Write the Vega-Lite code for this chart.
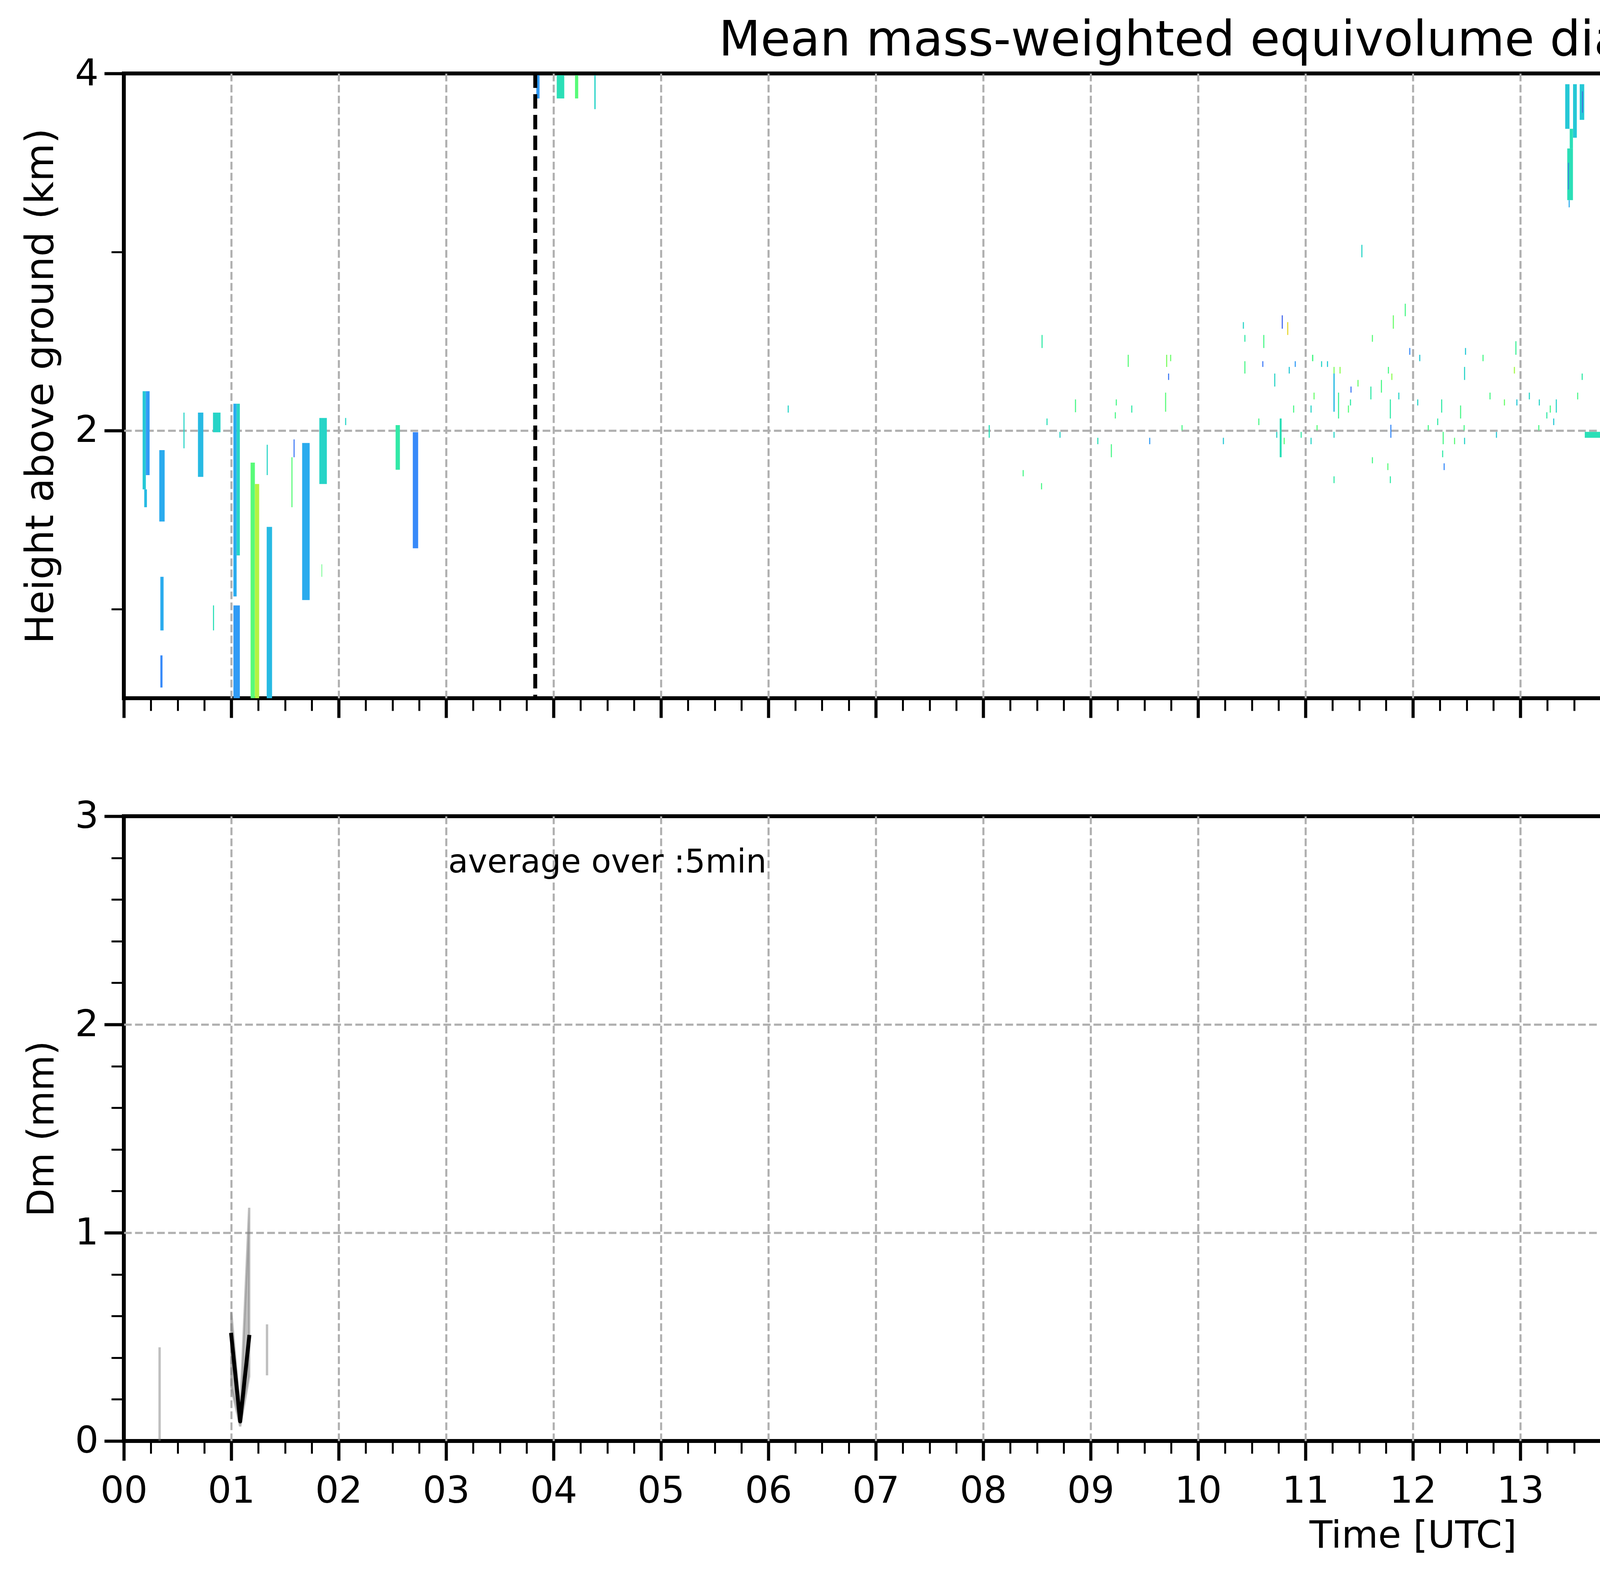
{
  "$schema": "https://vega.github.io/schema/vega-lite/v6.json",
  "background": "white",
  "padding": {"left": 50, "top": 38, "right": 10, "bottom": 10},
  "config": {
    "font": "DejaVu Sans",
    "view": {"stroke": "black", "strokeWidth": 10},
    "axis": {
      "domain": false,
      "tickColor": "black",
      "labelColor": "black",
      "labelFont": "DejaVu Sans",
      "labelFontSize": 95,
      "titleFont": "DejaVu Sans",
      "titleFontSize": 96,
      "titleFontWeight": "normal",
      "titleColor": "black",
      "gridColor": "#b0b0b0",
      "gridDash": [19.7, 8.5],
      "gridWidth": 5.3,
      "zindex": 1,
      "labelFlush": false,
      "labelOverlap": false,
      "labelBound": false,
      "labelPadding": 15,
      "titlePadding": 35
    },
    "title": {"font": "DejaVu Sans", "fontSize": 124, "fontWeight": "normal", "color": "black", "anchor": "middle", "frame": "group", "baseline": "alphabetic", "offset": -27}
  },
  "datasets": {
    "radar": [
      {"t0":20.300,"t1":20.318,"h0":0.50,"h1":0.65,"dm":1.8},
      {"t0":20.318,"t1":20.335,"h0":0.50,"h1":0.65,"dm":1.35},
      {"t0":20.335,"t1":20.400,"h0":0.50,"h1":0.65,"dm":1.05},
      {"t0":20.400,"t1":20.448,"h0":0.50,"h1":0.65,"dm":0.8},
      {"t0":20.448,"t1":20.478,"h0":0.50,"h1":0.65,"dm":1.4},
      {"t0":20.478,"t1":20.530,"h0":0.50,"h1":0.65,"dm":0.65},
      {"t0":20.530,"t1":20.580,"h0":0.50,"h1":0.65,"dm":0.45},
      {"t0":20.580,"t1":20.640,"h0":0.50,"h1":0.65,"dm":0.22},
      {"t0":20.640,"t1":20.675,"h0":0.50,"h1":0.65,"dm":0.4},
      {"t0":20.675,"t1":20.730,"h0":0.50,"h1":0.65,"dm":0.6},
      {"t0":20.730,"t1":20.758,"h0":0.50,"h1":0.65,"dm":0.9},
      {"t0":20.758,"t1":20.785,"h0":0.50,"h1":0.65,"dm":1.75},
      {"t0":20.785,"t1":20.830,"h0":0.50,"h1":0.65,"dm":1.2},
      {"t0":20.830,"t1":20.880,"h0":0.50,"h1":0.65,"dm":0.5},
      {"t0":20.880,"t1":20.920,"h0":0.50,"h1":0.65,"dm":0.35},

      {"t0":20.300,"t1":20.318,"h0":0.65,"h1":0.80,"dm":1.8},
      {"t0":20.318,"t1":20.335,"h0":0.65,"h1":0.80,"dm":1.3},
      {"t0":20.335,"t1":20.398,"h0":0.65,"h1":0.80,"dm":1.05},
      {"t0":20.398,"t1":20.446,"h0":0.65,"h1":0.80,"dm":0.8},
      {"t0":20.446,"t1":20.475,"h0":0.65,"h1":0.80,"dm":1.4},
      {"t0":20.475,"t1":20.525,"h0":0.65,"h1":0.80,"dm":0.6},
      {"t0":20.525,"t1":20.568,"h0":0.65,"h1":0.80,"dm":0.4},
      {"t0":20.568,"t1":20.585,"h0":0.65,"h1":0.80,"dm":0.2},
      {"t0":20.612,"t1":20.640,"h0":0.65,"h1":0.80,"dm":0.3},
      {"t0":20.640,"t1":20.672,"h0":0.65,"h1":0.80,"dm":0.5},
      {"t0":20.672,"t1":20.728,"h0":0.65,"h1":0.80,"dm":0.65},
      {"t0":20.728,"t1":20.756,"h0":0.65,"h1":0.80,"dm":0.95},
      {"t0":20.756,"t1":20.782,"h0":0.65,"h1":0.80,"dm":1.7},
      {"t0":20.782,"t1":20.826,"h0":0.65,"h1":0.80,"dm":1.2},
      {"t0":20.826,"t1":20.870,"h0":0.65,"h1":0.80,"dm":0.5},
      {"t0":20.870,"t1":20.905,"h0":0.65,"h1":0.80,"dm":0.3},

      {"t0":20.300,"t1":20.318,"h0":0.80,"h1":0.95,"dm":1.75},
      {"t0":20.318,"t1":20.333,"h0":0.80,"h1":0.95,"dm":1.4},
      {"t0":20.333,"t1":20.395,"h0":0.80,"h1":0.95,"dm":1.0},
      {"t0":20.395,"t1":20.443,"h0":0.80,"h1":0.95,"dm":0.75},
      {"t0":20.443,"t1":20.472,"h0":0.80,"h1":0.95,"dm":1.35},
      {"t0":20.472,"t1":20.520,"h0":0.80,"h1":0.95,"dm":0.6},
      {"t0":20.520,"t1":20.550,"h0":0.80,"h1":0.95,"dm":0.35},
      {"t0":20.625,"t1":20.660,"h0":0.80,"h1":0.95,"dm":0.35},
      {"t0":20.660,"t1":20.725,"h0":0.80,"h1":0.95,"dm":0.6},
      {"t0":20.725,"t1":20.754,"h0":0.80,"h1":0.95,"dm":0.95},
      {"t0":20.754,"t1":20.779,"h0":0.80,"h1":0.95,"dm":1.65},
      {"t0":20.779,"t1":20.824,"h0":0.80,"h1":0.95,"dm":1.15},
      {"t0":20.824,"t1":20.858,"h0":0.80,"h1":0.95,"dm":0.45},
      {"t0":20.858,"t1":20.875,"h0":0.80,"h1":0.95,"dm":0.25},

      {"t0":20.292,"t1":20.300,"h0":0.95,"h1":1.10,"dm":1.5},
      {"t0":20.300,"t1":20.318,"h0":0.95,"h1":1.10,"dm":1.75},
      {"t0":20.318,"t1":20.332,"h0":0.95,"h1":1.10,"dm":1.3},
      {"t0":20.332,"t1":20.392,"h0":0.95,"h1":1.10,"dm":1.0},
      {"t0":20.392,"t1":20.440,"h0":0.95,"h1":1.10,"dm":0.7},
      {"t0":20.440,"t1":20.468,"h0":0.95,"h1":1.10,"dm":1.4},
      {"t0":20.468,"t1":20.515,"h0":0.95,"h1":1.10,"dm":0.55},
      {"t0":20.515,"t1":20.543,"h0":0.95,"h1":1.10,"dm":0.3},
      {"t0":20.620,"t1":20.650,"h0":0.95,"h1":1.10,"dm":0.35},
      {"t0":20.650,"t1":20.722,"h0":0.95,"h1":1.10,"dm":0.6},
      {"t0":20.722,"t1":20.751,"h0":0.95,"h1":1.10,"dm":0.9},
      {"t0":20.751,"t1":20.776,"h0":0.95,"h1":1.10,"dm":1.6},
      {"t0":20.776,"t1":20.820,"h0":0.95,"h1":1.10,"dm":1.1},
      {"t0":20.820,"t1":20.855,"h0":0.95,"h1":1.10,"dm":0.4},

      {"t0":20.275,"t1":20.298,"h0":1.10,"h1":1.25,"dm":1.45},
      {"t0":20.298,"t1":20.316,"h0":1.10,"h1":1.25,"dm":1.8},
      {"t0":20.316,"t1":20.330,"h0":1.10,"h1":1.25,"dm":1.3},
      {"t0":20.330,"t1":20.390,"h0":1.10,"h1":1.25,"dm":1.0},
      {"t0":20.390,"t1":20.437,"h0":1.10,"h1":1.25,"dm":0.7},
      {"t0":20.437,"t1":20.463,"h0":1.10,"h1":1.25,"dm":1.45},
      {"t0":20.463,"t1":20.510,"h0":1.10,"h1":1.25,"dm":0.5},
      {"t0":20.510,"t1":20.540,"h0":1.10,"h1":1.25,"dm":0.3},
      {"t0":20.615,"t1":20.645,"h0":1.10,"h1":1.25,"dm":0.4},
      {"t0":20.645,"t1":20.718,"h0":1.10,"h1":1.25,"dm":0.6},
      {"t0":20.718,"t1":20.748,"h0":1.10,"h1":1.25,"dm":0.9},
      {"t0":20.748,"t1":20.772,"h0":1.10,"h1":1.25,"dm":1.6},
      {"t0":20.772,"t1":20.815,"h0":1.10,"h1":1.25,"dm":1.1},
      {"t0":20.815,"t1":20.845,"h0":1.10,"h1":1.25,"dm":0.35},

      {"t0":20.250,"t1":20.275,"h0":1.25,"h1":1.40,"dm":1.1},
      {"t0":20.275,"t1":20.296,"h0":1.25,"h1":1.40,"dm":1.6},
      {"t0":20.296,"t1":20.314,"h0":1.25,"h1":1.40,"dm":1.8},
      {"t0":20.314,"t1":20.328,"h0":1.25,"h1":1.40,"dm":1.25},
      {"t0":20.328,"t1":20.386,"h0":1.25,"h1":1.40,"dm":0.95},
      {"t0":20.386,"t1":20.432,"h0":1.25,"h1":1.40,"dm":0.7},
      {"t0":20.432,"t1":20.458,"h0":1.25,"h1":1.40,"dm":1.45},
      {"t0":20.458,"t1":20.505,"h0":1.25,"h1":1.40,"dm":0.5},
      {"t0":20.505,"t1":20.535,"h0":1.25,"h1":1.40,"dm":0.3},
      {"t0":20.605,"t1":20.640,"h0":1.25,"h1":1.40,"dm":0.45},
      {"t0":20.640,"t1":20.714,"h0":1.25,"h1":1.40,"dm":0.6},
      {"t0":20.714,"t1":20.745,"h0":1.25,"h1":1.40,"dm":0.9},
      {"t0":20.745,"t1":20.769,"h0":1.25,"h1":1.40,"dm":1.6},
      {"t0":20.769,"t1":20.810,"h0":1.25,"h1":1.40,"dm":1.05},
      {"t0":20.810,"t1":20.840,"h0":1.25,"h1":1.40,"dm":0.35},

      {"t0":20.258,"t1":20.290,"h0":1.40,"h1":1.55,"dm":1.3},
      {"t0":20.296,"t1":20.312,"h0":1.40,"h1":1.55,"dm":1.75},
      {"t0":20.312,"t1":20.326,"h0":1.40,"h1":1.55,"dm":1.2},
      {"t0":20.326,"t1":20.382,"h0":1.40,"h1":1.55,"dm":0.9},
      {"t0":20.382,"t1":20.428,"h0":1.40,"h1":1.55,"dm":0.65},
      {"t0":20.428,"t1":20.452,"h0":1.40,"h1":1.55,"dm":1.4},
      {"t0":20.452,"t1":20.500,"h0":1.40,"h1":1.55,"dm":0.5},
      {"t0":20.500,"t1":20.532,"h0":1.40,"h1":1.55,"dm":0.35},
      {"t0":20.595,"t1":20.635,"h0":1.40,"h1":1.55,"dm":0.5},
      {"t0":20.635,"t1":20.710,"h0":1.40,"h1":1.55,"dm":0.65},
      {"t0":20.710,"t1":20.742,"h0":1.40,"h1":1.55,"dm":0.9},
      {"t0":20.742,"t1":20.766,"h0":1.40,"h1":1.55,"dm":1.55},
      {"t0":20.766,"t1":20.808,"h0":1.40,"h1":1.55,"dm":1.0},
      {"t0":20.808,"t1":20.838,"h0":1.40,"h1":1.55,"dm":0.4},

      {"t0":20.296,"t1":20.310,"h0":1.55,"h1":1.70,"dm":1.7},
      {"t0":20.310,"t1":20.324,"h0":1.55,"h1":1.70,"dm":1.2},
      {"t0":20.324,"t1":20.378,"h0":1.55,"h1":1.70,"dm":0.9},
      {"t0":20.378,"t1":20.424,"h0":1.55,"h1":1.70,"dm":0.65},
      {"t0":20.424,"t1":20.447,"h0":1.55,"h1":1.70,"dm":1.35},
      {"t0":20.447,"t1":20.495,"h0":1.55,"h1":1.70,"dm":0.5},
      {"t0":20.495,"t1":20.528,"h0":1.55,"h1":1.70,"dm":0.4},
      {"t0":20.575,"t1":20.630,"h0":1.55,"h1":1.70,"dm":0.6},
      {"t0":20.630,"t1":20.705,"h0":1.55,"h1":1.70,"dm":0.7},
      {"t0":20.705,"t1":20.740,"h0":1.55,"h1":1.70,"dm":0.95},
      {"t0":20.740,"t1":20.764,"h0":1.55,"h1":1.70,"dm":1.5},
      {"t0":20.764,"t1":20.800,"h0":1.55,"h1":1.70,"dm":0.9},
      {"t0":20.800,"t1":20.835,"h0":1.55,"h1":1.70,"dm":0.45},

      {"t0":20.238,"t1":20.262,"h0":1.70,"h1":1.85,"dm":1.3},
      {"t0":20.262,"t1":20.290,"h0":1.70,"h1":1.85,"dm":1.7},
      {"t0":20.290,"t1":20.305,"h0":1.70,"h1":1.85,"dm":1.5},
      {"t0":20.305,"t1":20.345,"h0":1.70,"h1":1.85,"dm":1.0},
      {"t0":20.345,"t1":20.410,"h0":1.70,"h1":1.85,"dm":0.75},
      {"t0":20.410,"t1":20.440,"h0":1.70,"h1":1.85,"dm":1.2},
      {"t0":20.440,"t1":20.490,"h0":1.70,"h1":1.85,"dm":0.55},
      {"t0":20.490,"t1":20.530,"h0":1.70,"h1":1.85,"dm":0.45},
      {"t0":20.545,"t1":20.560,"h0":1.70,"h1":1.85,"dm":0.55},
      {"t0":20.560,"t1":20.640,"h0":1.70,"h1":1.85,"dm":0.65},
      {"t0":20.640,"t1":20.700,"h0":1.70,"h1":1.85,"dm":0.8},
      {"t0":20.700,"t1":20.745,"h0":1.70,"h1":1.85,"dm":1.0},
      {"t0":20.745,"t1":20.762,"h0":1.70,"h1":1.85,"dm":1.4},
      {"t0":20.762,"t1":20.800,"h0":1.70,"h1":1.85,"dm":0.5},
      {"t0":20.800,"t1":20.835,"h0":1.70,"h1":1.85,"dm":0.4},

      {"t0":20.262,"t1":20.300,"h0":1.85,"h1":1.95,"dm":1.6},
      {"t0":20.330,"t1":20.490,"h0":1.85,"h1":2.00,"dm":0.8},
      {"t0":20.495,"t1":20.625,"h0":1.85,"h1":2.00,"dm":0.65},
      {"t0":20.640,"t1":20.735,"h0":1.85,"h1":2.00,"dm":0.85},
      {"t0":20.735,"t1":20.760,"h0":1.85,"h1":1.98,"dm":1.2},
      {"t0":20.760,"t1":20.800,"h0":1.85,"h1":1.93,"dm":0.45},

      {"t0":20.372,"t1":20.400,"h0":2.00,"h1":2.14,"dm":0.8},
      {"t0":20.440,"t1":20.475,"h0":2.00,"h1":2.03,"dm":0.8},
      {"t0":20.555,"t1":20.585,"h0":2.00,"h1":2.10,"dm":0.7},
      {"t0":20.585,"t1":20.610,"h0":2.00,"h1":2.32,"dm":0.75},
      {"t0":20.598,"t1":20.607,"h0":2.32,"h1":2.38,"dm":0.2},
      {"t0":20.610,"t1":20.675,"h0":2.00,"h1":2.09,"dm":0.5},
      {"t0":20.742,"t1":20.800,"h0":2.00,"h1":2.21,"dm":0.9},

      {"t0":20.120,"t1":20.128,"h0":2.08,"h1":2.12,"dm":0.6},
      {"t0":20.158,"t1":20.166,"h0":2.04,"h1":2.12,"dm":0.8},
      {"t0":20.198,"t1":20.204,"h0":2.04,"h1":2.10,"dm":0.2},
      {"t0":20.212,"t1":20.218,"h0":1.96,"h1":2.00,"dm":0.5},
      {"t0":20.222,"t1":20.228,"h0":1.78,"h1":1.82,"dm":0.5},
      {"t0":20.805,"t1":20.812,"h0":1.62,"h1":1.72,"dm":0.4},
      {"t0":20.842,"t1":20.849,"h0":1.75,"h1":1.85,"dm":0.7},
      {"t0":20.820,"t1":20.826,"h0":1.96,"h1":2.04,"dm":0.2},
      {"t0":20.862,"t1":20.868,"h0":2.00,"h1":2.08,"dm":0.8},
      {"t0":20.880,"t1":20.886,"h0":1.85,"h1":1.90,"dm":0.6},
      {"t0":20.920,"t1":20.926,"h0":1.96,"h1":2.06,"dm":0.5},
      {"t0":20.945,"t1":20.952,"h0":2.00,"h1":2.06,"dm":0.8},
      {"t0":20.996,"t1":21.003,"h0":1.88,"h1":2.08,"dm":0.8},
      {"t0":21.050,"t1":21.085,"h0":1.92,"h1":2.10,"dm":0.9},
      {"t0":21.060,"t1":21.067,"h0":1.80,"h1":1.92,"dm":0.6},
      {"t0":21.100,"t1":21.112,"h0":1.66,"h1":1.69,"dm":0.3},

      {"t0":20.772,"t1":20.786,"h0":3.36,"h1":3.51,"dm":0.8},
      {"t0":20.855,"t1":20.862,"h0":3.83,"h1":3.97,"dm":0.7},
      {"t0":20.975,"t1":20.985,"h0":3.80,"h1":3.98,"dm":0.9},
      {"t0":20.985,"t1":21.000,"h0":3.73,"h1":4.00,"dm":0.5},
      {"t0":21.000,"t1":21.030,"h0":3.85,"h1":4.00,"dm":0.45},
      {"t0":21.005,"t1":21.012,"h0":3.70,"h1":3.78,"dm":0.15},
      {"t0":21.160,"t1":21.170,"h0":3.44,"h1":3.94,"dm":0.7},
      {"t0":21.222,"t1":21.228,"h0":3.76,"h1":3.83,"dm":0.85},
      {"t0":21.270,"t1":21.283,"h0":3.62,"h1":3.90,"dm":0.55},
      {"t0":21.283,"t1":21.295,"h0":3.55,"h1":3.92,"dm":0.75},
      {"t0":21.455,"t1":21.460,"h0":3.92,"h1":3.97,"dm":0.15},
      {"t0":21.455,"t1":21.461,"h0":3.55,"h1":3.63,"dm":0.85},
      {"t0":21.455,"t1":21.459,"h0":3.27,"h1":3.31,"dm":0.25},
      {"t0":21.540,"t1":21.550,"h0":3.49,"h1":3.56,"dm":0.5},
      {"t0":21.545,"t1":21.550,"h0":3.62,"h1":3.70,"dm":0.4},
      {"t0":21.540,"t1":21.545,"h0":3.92,"h1":3.96,"dm":0.8},
      {"t0":21.920,"t1":21.928,"h0":2.68,"h1":2.75,"dm":0.65},

      {"t0":0.175,"t1":0.205,"h0":1.67,"h1":2.22,"dm":0.55},
      {"t0":0.205,"t1":0.240,"h0":1.75,"h1":2.22,"dm":0.4},
      {"t0":0.190,"t1":0.215,"h0":1.57,"h1":1.67,"dm":0.5},
      {"t0":0.330,"t1":0.380,"h0":1.49,"h1":1.89,"dm":0.45},
      {"t0":0.340,"t1":0.370,"h0":0.88,"h1":1.18,"dm":0.45},
      {"t0":0.340,"t1":0.360,"h0":0.56,"h1":0.74,"dm":0.35},
      {"t0":0.555,"t1":0.565,"h0":1.90,"h1":2.10,"dm":0.6},
      {"t0":0.690,"t1":0.740,"h0":1.74,"h1":2.10,"dm":0.5},
      {"t0":0.830,"t1":0.900,"h0":1.99,"h1":2.10,"dm":0.6},
      {"t0":0.830,"t1":0.840,"h0":0.88,"h1":1.02,"dm":0.65},
      {"t0":1.020,"t1":1.050,"h0":1.07,"h1":2.15,"dm":0.45},
      {"t0":1.050,"t1":1.080,"h0":1.30,"h1":2.15,"dm":0.6},
      {"t0":1.020,"t1":1.080,"h0":0.50,"h1":1.02,"dm":0.4},
      {"t0":1.180,"t1":1.220,"h0":0.50,"h1":1.82,"dm":0.85},
      {"t0":1.220,"t1":1.260,"h0":0.50,"h1":1.70,"dm":1.1},
      {"t0":1.330,"t1":1.380,"h0":0.50,"h1":1.46,"dm":0.5},
      {"t0":1.330,"t1":1.340,"h0":1.75,"h1":1.92,"dm":0.6},
      {"t0":1.560,"t1":1.570,"h0":1.57,"h1":1.85,"dm":0.85},
      {"t0":1.580,"t1":1.590,"h0":1.85,"h1":1.95,"dm":0.3},
      {"t0":1.660,"t1":1.730,"h0":1.05,"h1":1.93,"dm":0.45},
      {"t0":1.820,"t1":1.890,"h0":1.70,"h1":2.07,"dm":0.6},
      {"t0":1.840,"t1":1.846,"h0":1.18,"h1":1.25,"dm":0.85},
      {"t0":2.060,"t1":2.070,"h0":2.03,"h1":2.07,"dm":0.6},
      {"t0":2.530,"t1":2.570,"h0":1.78,"h1":2.03,"dm":0.7},
      {"t0":2.690,"t1":2.740,"h0":1.34,"h1":1.99,"dm":0.35},

      {"t0":3.840,"t1":3.870,"h0":3.86,"h1":3.99,"dm":0.4},
      {"t0":4.030,"t1":4.100,"h0":3.86,"h1":3.99,"dm":0.65},
      {"t0":4.200,"t1":4.230,"h0":3.86,"h1":3.99,"dm":0.85},
      {"t0":4.380,"t1":4.392,"h0":3.80,"h1":3.99,"dm":0.6},
      {"t0":6.180,"t1":6.190,"h0":2.10,"h1":2.14,"dm":0.6},

      {"t0":13.418,"t1":13.458,"h0":3.69,"h1":3.94,"dm":0.55},
      {"t0":13.491,"t1":13.526,"h0":3.64,"h1":3.94,"dm":0.55},
      {"t0":13.553,"t1":13.595,"h0":3.74,"h1":3.94,"dm":0.55},
      {"t0":13.575,"t1":13.582,"h0":3.78,"h1":3.90,"dm":0.2},
      {"t0":13.460,"t1":13.490,"h0":3.58,"h1":3.69,"dm":0.65},
      {"t0":13.437,"t1":13.490,"h0":3.29,"h1":3.58,"dm":0.65},
      {"t0":13.445,"t1":13.452,"h0":3.35,"h1":3.50,"dm":0.25},
      {"t0":13.450,"t1":13.460,"h0":3.25,"h1":3.29,"dm":0.45},

      {"t0":11.520,"t1":11.530,"h0":2.97,"h1":3.04,"dm":0.6},
      {"t0":11.924,"t1":11.934,"h0":2.64,"h1":2.71,"dm":0.8},
      {"t0":11.813,"t1":11.823,"h0":2.57,"h1":2.645,"dm":0.9},
      {"t0":10.779,"t1":10.789,"h0":2.57,"h1":2.645,"dm":0.25},
      {"t0":10.830,"t1":10.840,"h0":2.535,"h1":2.607,"dm":1.25},
      {"t0":10.417,"t1":10.427,"h0":2.57,"h1":2.607,"dm":0.6},
      {"t0":10.431,"t1":10.441,"h0":2.497,"h1":2.535,"dm":0.7},
      {"t0":10.607,"t1":10.617,"h0":2.462,"h1":2.535,"dm":0.8},
      {"t0":8.543,"t1":8.553,"h0":2.462,"h1":2.535,"dm":0.7},
      {"t0":11.618,"t1":11.628,"h0":2.497,"h1":2.535,"dm":0.85},
      {"t0":11.966,"t1":11.976,"h0":2.424,"h1":2.462,"dm":0.35},
      {"t0":12.485,"t1":12.495,"h0":2.424,"h1":2.462,"dm":0.55},
      {"t0":12.954,"t1":12.964,"h0":2.424,"h1":2.50,"dm":0.75},
      {"t0":14.772,"t1":14.782,"h0":2.424,"h1":2.462,"dm":0.65},
      {"t0":9.345,"t1":9.355,"h0":2.356,"h1":2.424,"dm":0.85},
      {"t0":9.703,"t1":9.713,"h0":2.356,"h1":2.424,"dm":0.95},
      {"t0":9.740,"t1":9.750,"h0":2.388,"h1":2.424,"dm":0.9},
      {"t0":10.598,"t1":10.608,"h0":2.356,"h1":2.388,"dm":0.3},
      {"t0":11.061,"t1":11.073,"h0":2.388,"h1":2.424,"dm":0.8},
      {"t0":11.145,"t1":11.155,"h0":2.356,"h1":2.388,"dm":0.6},
      {"t0":11.200,"t1":11.210,"h0":2.356,"h1":2.388,"dm":0.55},
      {"t0":10.844,"t1":10.854,"h0":2.319,"h1":2.356,"dm":0.55},
      {"t0":10.900,"t1":10.910,"h0":2.356,"h1":2.388,"dm":0.4},
      {"t0":11.261,"t1":11.271,"h0":2.319,"h1":2.356,"dm":0.95},
      {"t0":11.317,"t1":11.327,"h0":2.319,"h1":2.356,"dm":1.0},
      {"t0":11.767,"t1":11.777,"h0":2.319,"h1":2.356,"dm":0.8},
      {"t0":12.476,"t1":12.486,"h0":2.283,"h1":2.356,"dm":0.6},
      {"t0":12.940,"t1":12.950,"h0":2.319,"h1":2.356,"dm":1.05},
      {"t0":12.648,"t1":12.658,"h0":2.388,"h1":2.424,"dm":0.8},
      {"t0":12.059,"t1":12.069,"h0":2.388,"h1":2.424,"dm":0.55},
      {"t0":9.721,"t1":9.731,"h0":2.283,"h1":2.319,"dm":0.3},
      {"t0":10.431,"t1":10.441,"h0":2.319,"h1":2.388,"dm":0.8},
      {"t0":10.709,"t1":10.719,"h0":2.246,"h1":2.319,"dm":0.6},
      {"t0":11.260,"t1":11.272,"h0":2.105,"h1":2.319,"dm":0.5},
      {"t0":11.303,"t1":11.313,"h0":2.067,"h1":2.212,"dm":0.75},
      {"t0":11.484,"t1":11.494,"h0":2.246,"h1":2.283,"dm":0.9},
      {"t0":11.419,"t1":11.429,"h0":2.212,"h1":2.246,"dm":0.3},
      {"t0":11.604,"t1":11.614,"h0":2.174,"h1":2.246,"dm":0.7},
      {"t0":11.702,"t1":11.712,"h0":2.212,"h1":2.283,"dm":0.8},
      {"t0":11.799,"t1":11.809,"h0":2.283,"h1":2.319,"dm":1.0},
      {"t0":11.864,"t1":11.874,"h0":2.174,"h1":2.212,"dm":0.6},
      {"t0":11.785,"t1":11.795,"h0":2.067,"h1":2.174,"dm":0.7},
      {"t0":11.790,"t1":11.800,"h0":1.959,"h1":2.032,"dm":0.35},
      {"t0":9.693,"t1":9.703,"h0":2.105,"h1":2.212,"dm":0.85},
      {"t0":9.378,"t1":9.388,"h0":2.10,"h1":2.14,"dm":0.7},
      {"t0":9.234,"t1":9.244,"h0":2.14,"h1":2.174,"dm":0.8},
      {"t0":9.225,"t1":9.235,"h0":2.067,"h1":2.102,"dm":0.8},
      {"t0":8.854,"t1":8.864,"h0":2.102,"h1":2.174,"dm":0.8},
      {"t0":8.589,"t1":8.599,"h0":2.03,"h1":2.067,"dm":0.65},
      {"t0":8.051,"t1":8.061,"h0":1.959,"h1":2.03,"dm":0.65},
      {"t0":8.710,"t1":8.720,"h0":1.959,"h1":1.992,"dm":0.6},
      {"t0":9.062,"t1":9.072,"h0":1.923,"h1":1.959,"dm":0.65},
      {"t0":9.188,"t1":9.198,"h0":1.85,"h1":1.923,"dm":0.8},
      {"t0":9.545,"t1":9.555,"h0":1.923,"h1":1.959,"dm":0.4},
      {"t0":9.846,"t1":9.856,"h0":2.0,"h1":2.03,"dm":0.8},
      {"t0":10.231,"t1":10.241,"h0":1.923,"h1":1.959,"dm":0.55},
      {"t0":10.561,"t1":10.571,"h0":2.03,"h1":2.067,"dm":0.8},
      {"t0":10.760,"t1":10.778,"h0":1.85,"h1":2.067,"dm":0.65},
      {"t0":10.797,"t1":10.807,"h0":1.923,"h1":1.959,"dm":0.85},
      {"t0":10.728,"t1":10.738,"h0":1.959,"h1":1.992,"dm":0.6},
      {"t0":10.955,"t1":10.965,"h0":1.959,"h1":1.992,"dm":0.7},
      {"t0":10.885,"t1":10.895,"h0":2.10,"h1":2.14,"dm":0.8},
      {"t0":11.047,"t1":11.057,"h0":2.10,"h1":2.14,"dm":0.6},
      {"t0":11.047,"t1":11.057,"h0":1.923,"h1":1.959,"dm":0.6},
      {"t0":11.103,"t1":11.113,"h0":2.0,"h1":2.03,"dm":0.85},
      {"t0":11.075,"t1":11.085,"h0":2.174,"h1":2.212,"dm":0.9},
      {"t0":11.261,"t1":11.271,"h0":1.959,"h1":1.992,"dm":0.6},
      {"t0":11.395,"t1":11.405,"h0":2.10,"h1":2.14,"dm":0.85},
      {"t0":11.414,"t1":11.424,"h0":2.14,"h1":2.174,"dm":0.7},
      {"t0":11.618,"t1":11.628,"h0":1.816,"h1":1.85,"dm":0.8},
      {"t0":11.762,"t1":11.772,"h0":1.778,"h1":1.816,"dm":0.85},
      {"t0":11.261,"t1":11.271,"h0":1.705,"h1":1.743,"dm":0.7},
      {"t0":11.785,"t1":11.795,"h0":1.705,"h1":1.743,"dm":0.7},
      {"t0":8.367,"t1":8.377,"h0":1.743,"h1":1.778,"dm":0.8},
      {"t0":8.538,"t1":8.548,"h0":1.67,"h1":1.705,"dm":0.8},
      {"t0":12.040,"t1":12.050,"h0":2.14,"h1":2.174,"dm":0.6},
      {"t0":12.263,"t1":12.273,"h0":2.10,"h1":2.174,"dm":0.7},
      {"t0":12.226,"t1":12.236,"h0":2.03,"h1":2.067,"dm":0.7},
      {"t0":12.138,"t1":12.148,"h0":2.0,"h1":2.03,"dm":0.8},
      {"t0":12.277,"t1":12.287,"h0":1.923,"h1":1.992,"dm":0.8},
      {"t0":12.272,"t1":12.282,"h0":1.85,"h1":1.888,"dm":0.7},
      {"t0":12.286,"t1":12.296,"h0":1.778,"h1":1.816,"dm":0.35},
      {"t0":12.383,"t1":12.393,"h0":1.923,"h1":1.959,"dm":0.85},
      {"t0":12.476,"t1":12.486,"h0":1.923,"h1":1.959,"dm":0.6},
      {"t0":12.439,"t1":12.449,"h0":2.067,"h1":2.14,"dm":0.8},
      {"t0":12.472,"t1":12.482,"h0":2.0,"h1":2.03,"dm":0.8},
      {"t0":12.713,"t1":12.723,"h0":2.174,"h1":2.212,"dm":0.8},
      {"t0":12.847,"t1":12.857,"h0":2.14,"h1":2.174,"dm":0.9},
      {"t0":12.963,"t1":12.973,"h0":2.14,"h1":2.174,"dm":0.55},
      {"t0":12.773,"t1":12.783,"h0":1.959,"h1":1.992,"dm":0.55},
      {"t0":13.079,"t1":13.089,"h0":2.174,"h1":2.212,"dm":0.6},
      {"t0":13.167,"t1":13.177,"h0":2.0,"h1":2.03,"dm":0.8},
      {"t0":13.172,"t1":13.182,"h0":2.14,"h1":2.174,"dm":0.6},
      {"t0":13.242,"t1":13.252,"h0":2.067,"h1":2.102,"dm":0.7},
      {"t0":13.274,"t1":13.284,"h0":2.10,"h1":2.14,"dm":0.8},
      {"t0":13.306,"t1":13.316,"h0":2.03,"h1":2.067,"dm":0.55},
      {"t0":13.330,"t1":13.340,"h0":2.10,"h1":2.174,"dm":0.6},
      {"t0":13.529,"t1":13.539,"h0":2.174,"h1":2.212,"dm":0.8},
      {"t0":13.571,"t1":13.581,"h0":2.283,"h1":2.319,"dm":0.7},
      {"t0":13.600,"t1":13.784,"h0":1.959,"h1":1.992,"dm":0.65},
      {"t0":14.109,"t1":14.119,"h0":2.067,"h1":2.102,"dm":0.7},
      {"t0":14.485,"t1":14.495,"h0":2.14,"h1":2.174,"dm":0.9},
      {"t0":14.638,"t1":14.648,"h0":2.10,"h1":2.174,"dm":0.6},
      {"t0":14.490,"t1":14.500,"h0":1.77,"h1":1.85,"dm":0.15},
      {"t0":14.500,"t1":14.520,"h0":1.70,"h1":1.89,"dm":0.5},
      {"t0":14.515,"t1":14.525,"h0":1.60,"h1":1.75,"dm":0.4},

      {"t0":15.070,"t1":15.080,"h0":3.36,"h1":3.40,"dm":0.4},
      {"t0":15.260,"t1":15.268,"h0":2.64,"h1":2.68,"dm":0.15},
      {"t0":15.780,"t1":15.788,"h0":1.97,"h1":2.00,"dm":0.6},
      {"t0":16.040,"t1":16.048,"h0":1.97,"h1":2.00,"dm":0.65},
      {"t0":16.090,"t1":16.098,"h0":2.03,"h1":2.07,"dm":0.7},
      {"t0":16.650,"t1":16.658,"h0":1.93,"h1":1.96,"dm":0.5},
      {"t0":17.170,"t1":17.178,"h0":1.90,"h1":1.93,"dm":0.75},
      {"t0":17.490,"t1":17.498,"h0":1.82,"h1":1.86,"dm":0.65},
      {"t0":17.630,"t1":17.638,"h0":2.10,"h1":2.14,"dm":0.6},
      {"t0":18.210,"t1":18.218,"h0":1.97,"h1":2.00,"dm":0.65},
      {"t0":18.370,"t1":18.378,"h0":1.86,"h1":1.89,"dm":0.7},
      {"t0":19.550,"t1":19.558,"h0":1.82,"h1":1.86,"dm":0.7},
      {"t0":19.850,"t1":19.858,"h0":1.90,"h1":1.93,"dm":0.6}
    ],
    "events": [
      {"t0": 3.83},
      {"t0": 18.52}
    ],
    "cbar": [
      {"c0":0.00,"c1":0.04,"cm":0.02},{"c0":0.04,"c1":0.08,"cm":0.06},{"c0":0.08,"c1":0.12,"cm":0.10},{"c0":0.12,"c1":0.16,"cm":0.14},{"c0":0.16,"c1":0.20,"cm":0.18},
      {"c0":0.20,"c1":0.24,"cm":0.22},{"c0":0.24,"c1":0.28,"cm":0.26},{"c0":0.28,"c1":0.32,"cm":0.30},{"c0":0.32,"c1":0.36,"cm":0.34},{"c0":0.36,"c1":0.40,"cm":0.38},
      {"c0":0.40,"c1":0.44,"cm":0.42},{"c0":0.44,"c1":0.48,"cm":0.46},{"c0":0.48,"c1":0.52,"cm":0.50},{"c0":0.52,"c1":0.56,"cm":0.54},{"c0":0.56,"c1":0.60,"cm":0.58},
      {"c0":0.60,"c1":0.64,"cm":0.62},{"c0":0.64,"c1":0.68,"cm":0.66},{"c0":0.68,"c1":0.72,"cm":0.70},{"c0":0.72,"c1":0.76,"cm":0.74},{"c0":0.76,"c1":0.80,"cm":0.78},
      {"c0":0.80,"c1":0.84,"cm":0.82},{"c0":0.84,"c1":0.88,"cm":0.86},{"c0":0.88,"c1":0.92,"cm":0.90},{"c0":0.92,"c1":0.96,"cm":0.94},{"c0":0.96,"c1":1.00,"cm":0.98},
      {"c0":1.00,"c1":1.04,"cm":1.02},{"c0":1.04,"c1":1.08,"cm":1.06},{"c0":1.08,"c1":1.12,"cm":1.10},{"c0":1.12,"c1":1.16,"cm":1.14},{"c0":1.16,"c1":1.20,"cm":1.18},
      {"c0":1.20,"c1":1.24,"cm":1.22},{"c0":1.24,"c1":1.28,"cm":1.26},{"c0":1.28,"c1":1.32,"cm":1.30},{"c0":1.32,"c1":1.36,"cm":1.34},{"c0":1.36,"c1":1.40,"cm":1.38},
      {"c0":1.40,"c1":1.44,"cm":1.42},{"c0":1.44,"c1":1.48,"cm":1.46},{"c0":1.48,"c1":1.52,"cm":1.50},{"c0":1.52,"c1":1.56,"cm":1.54},{"c0":1.56,"c1":1.60,"cm":1.58},
      {"c0":1.60,"c1":1.64,"cm":1.62},{"c0":1.64,"c1":1.68,"cm":1.66},{"c0":1.68,"c1":1.72,"cm":1.70},{"c0":1.72,"c1":1.76,"cm":1.74},{"c0":1.76,"c1":1.80,"cm":1.78},
      {"c0":1.80,"c1":1.84,"cm":1.82},{"c0":1.84,"c1":1.88,"cm":1.86},{"c0":1.88,"c1":1.92,"cm":1.90},{"c0":1.92,"c1":1.96,"cm":1.94},{"c0":1.96,"c1":2.00,"cm":1.98}
    ],
    "radar5": [
      {"seg":1,"t":0.333,"vmin":0.0,"vmax":0.45,"vmed":null},
      {"seg":2,"t":1.0,"vmin":0.26,"vmax":0.62,"vmed":0.51},
      {"seg":2,"t":1.083,"vmin":0.07,"vmax":0.13,"vmed":0.094},
      {"seg":2,"t":1.167,"vmin":0.31,"vmax":1.12,"vmed":0.5},
      {"seg":3,"t":1.333,"vmin":0.315,"vmax":0.56,"vmed":null},
      {"seg":4,"t":20.25,"vmin":0.107,"vmax":1.837,"vmed":0.797},
      {"seg":4,"t":20.333,"vmin":0.04,"vmax":1.409,"vmed":0.99},
      {"seg":4,"t":20.417,"vmin":0.053,"vmax":1.65,"vmed":0.91},
      {"seg":4,"t":20.5,"vmin":0.01,"vmax":1.131,"vmed":0.696},
      {"seg":4,"t":20.583,"vmin":0.086,"vmax":0.846,"vmed":0.334},
      {"seg":4,"t":20.667,"vmin":0.1,"vmax":1.34,"vmed":0.361},
      {"seg":4,"t":20.75,"vmin":0.203,"vmax":1.926,"vmed":0.951},
      {"seg":4,"t":20.833,"vmin":0.02,"vmax":0.877,"vmed":0.448},
      {"seg":4,"t":20.917,"vmin":0.34,"vmax":0.36,"vmed":0.355}
    ],
    "note": [
      {"t": 3.02, "v": 2.73, "txt": "average over :5min"}
    ]
  },
  "vconcat": [
    {
      "spacing": 64,
      "hconcat": [
        {
          "width": 6600,
          "height": 1599,
          "title": {"text": "Mean mass-weighted equivolume diameter on 20260504"},
          "encoding": {
            "x": {
              "field": "t0",
              "type": "quantitative",
              "scale": {"domain": [0, 24], "nice": false, "zero": false},
              "axis": {
                "title": null,
                "labels": false,
                "values": [0,0.25,0.5,0.75,1,1.25,1.5,1.75,2,2.25,2.5,2.75,3,3.25,3.5,3.75,4,4.25,4.5,4.75,5,5.25,5.5,5.75,6,6.25,6.5,6.75,7,7.25,7.5,7.75,8,8.25,8.5,8.75,9,9.25,9.5,9.75,10,10.25,10.5,10.75,11,11.25,11.5,11.75,12,12.25,12.5,12.75,13,13.25,13.5,13.75,14,14.25,14.5,14.75,15,15.25,15.5,15.75,16,16.25,16.5,16.75,17,17.25,17.5,17.75,18,18.25,18.5,18.75,19,19.25,19.5,19.75,20,20.25,20.5,20.75,21,21.25,21.5,21.75,22,22.25,22.5,22.75,23,23.25,23.5,23.75,24],
                "tickSize": 50,
                "tickDash": {"condition": {"test": "datum.value % 1 === 0 && datum.value < 24", "value": []}, "value": [32, 200]},
                "tickWidth": {"condition": {"test": "datum.value % 1 === 0 && datum.value < 24", "value": 8}, "value": 5},
                "gridOpacity": {"condition": {"test": "datum.value % 1 === 0 && datum.value > 0 && datum.value < 24", "value": 1}, "value": 0}
              }
            }
          },
          "layer": [
            {
              "data": {"name": "radar"},
              "mark": {"type": "rect"},
              "encoding": {
                "x2": {"field": "t1"},
                "y": {
                  "field": "h0",
                  "type": "quantitative",
                  "scale": {"domain": [0.5, 4], "nice": false, "zero": false},
                  "axis": {
                    "title": "Height above ground (km)",
                    "titleFontSize": 100,
                    "values": [1, 2, 3, 4],
                    "labelExpr": "datum.value % 2 === 0 ? datum.label : ''",
                    "tickSize": 50,
                    "tickDash": {"condition": {"test": "datum.value % 2 === 0", "value": []}, "value": [32, 200]},
                    "tickWidth": {"condition": {"test": "datum.value % 2 === 0", "value": 8}, "value": 5},
                    "gridOpacity": {"condition": {"test": "datum.value === 2", "value": 1}, "value": 0}
                  }
                },
                "y2": {"field": "h1"},
                "color": {
                  "field": "dm",
                  "type": "quantitative",
                  "scale": {"domain": [0, 2], "scheme": "turbo"},
                  "legend": null
                }
              }
            },
            {
              "data": {"name": "events"},
              "mark": {"type": "rule", "color": "black", "strokeWidth": 10, "strokeDash": [37, 16]},
              "encoding": {}
            }
          ]
        },
        {
          "width": 115,
          "height": 1599,
          "title": {"text": " "},
          "view": {"stroke": "black", "strokeWidth": 5},
          "data": {"name": "cbar"},
          "mark": {"type": "rect"},
          "encoding": {
            "y": {
              "field": "c0",
              "type": "quantitative",
              "scale": {"domain": [0, 2], "nice": false, "zero": false},
              "axis": {
                "orient": "right",
                "values": [0, 0.4, 0.8, 1.2, 1.6, 2],
                "format": ".1f",
                "title": "Dm (mm)",
                "titleAngle": 270,
                "titleBaseline": "top",
                "titleFontSize": 81,
                "labelFontSize": 81,
                "tickSize": 19,
                "tickWidth": 6,
                "labelPadding": 10,
                "titlePadding": 30,
                "grid": false
              }
            },
            "y2": {"field": "c1"},
            "color": {
              "field": "cm",
              "type": "quantitative",
              "scale": {"domain": [0, 2], "scheme": "turbo"},
              "legend": null
            }
          }
        }
      ]
    },
    {
      "width": 6600,
      "height": 1599,
      "encoding": {
        "x": {
          "field": "t",
          "type": "quantitative",
          "scale": {"domain": [0, 24], "nice": false, "zero": false},
          "axis": {
            "title": "Time [UTC]",
            "labelPadding": 32,
            "titlePadding": 20,
            "values": [0,0.25,0.5,0.75,1,1.25,1.5,1.75,2,2.25,2.5,2.75,3,3.25,3.5,3.75,4,4.25,4.5,4.75,5,5.25,5.5,5.75,6,6.25,6.5,6.75,7,7.25,7.5,7.75,8,8.25,8.5,8.75,9,9.25,9.5,9.75,10,10.25,10.5,10.75,11,11.25,11.5,11.75,12,12.25,12.5,12.75,13,13.25,13.5,13.75,14,14.25,14.5,14.75,15,15.25,15.5,15.75,16,16.25,16.5,16.75,17,17.25,17.5,17.75,18,18.25,18.5,18.75,19,19.25,19.5,19.75,20,20.25,20.5,20.75,21,21.25,21.5,21.75,22,22.25,22.5,22.75,23,23.25,23.5,23.75,24],
            "labelExpr": "datum.value % 1 === 0 && datum.value < 24 ? (datum.value < 10 ? '0' : '') + datum.value : ''",
            "tickSize": 50,
            "tickDash": {"condition": {"test": "datum.value % 1 === 0 && datum.value < 24", "value": []}, "value": [32, 200]},
            "tickWidth": {"condition": {"test": "datum.value % 1 === 0 && datum.value < 24", "value": 8}, "value": 5},
            "gridOpacity": {"condition": {"test": "datum.value % 1 === 0 && datum.value > 0 && datum.value < 24", "value": 1}, "value": 0}
          }
        }
      },
      "layer": [
        {
          "data": {"name": "radar5"},
          "mark": {"type": "area", "fillOpacity": 0.5, "stroke": "gray", "strokeOpacity": 0.5, "strokeWidth": 6},
          "encoding": {
            "y": {
              "field": "vmin",
              "type": "quantitative",
              "scale": {"domain": [0, 3], "nice": false, "zero": false},
              "axis": {
                "title": "Dm (mm)",
                "titleFontSize": 94,
                "values": [0,0.2,0.4,0.6,0.8,1,1.2,1.4,1.6,1.8,2,2.2,2.4,2.6,2.8,3],
                "labelExpr": "abs(datum.value - round(datum.value)) < 0.01 ? '' + round(datum.value) : ''",
                "tickSize": 50,
                "tickDash": {"condition": {"test": "abs(datum.value - round(datum.value)) < 0.01", "value": []}, "value": [32, 200]},
                "tickWidth": {"condition": {"test": "abs(datum.value - round(datum.value)) < 0.01", "value": 8}, "value": 5},
                "gridOpacity": {"condition": {"test": "abs(datum.value - round(datum.value)) < 0.01 && datum.value > 0.5 && datum.value < 2.5", "value": 1}, "value": 0}
              }
            },
            "y2": {"field": "vmax"},
            "detail": {"field": "seg", "type": "nominal"},
            "color": {
              "datum": "Min-Max Range radar Dm",
              "type": "nominal",
              "scale": {
                "domain": ["Min-Max Range radar Dm", "radar(xmacs-wmacs)_Dm_median", "Min-Max Range parsivel Dm", "parsivel_Dm_median"],
                "range": ["gray", "black", "#bf00bf", "#bf00bf"]
              },
              "legend": {
                "title": null,
                "orient": "top-right",
                "offset": 37,
                "fillColor": "white",
                "strokeColor": "#cccccc",
                "cornerRadius": 12,
                "padding": 24,
                "labelFont": "DejaVu Sans",
                "labelFontSize": 70,
                "labelColor": "black",
                "labelLimit": 3000,
                "labelOffset": 83,
                "symbolSize": 5041,
                "symbolOffset": 30,
                "symbolStrokeWidth": 10,
                "rowPadding": 36,
                "encoding": {
                  "symbols": {
                    "shape": {"value": {"expr": "(datum.value === 'Min-Max Range radar Dm' || datum.value === 'Min-Max Range parsivel Dm') ? 'M-2,-0.69H2V0.69H-2Z' : 'M-2,0H2'"}},
                    "fill": {"value": {"expr": "(datum.value === 'Min-Max Range parsivel Dm' || datum.value === 'parsivel_Dm_median') ? '#bf00bf' : 'gray'"}},
                    "fillOpacity": {"value": {"expr": "datum.value === 'Min-Max Range radar Dm' ? 0.5 : (datum.value === 'Min-Max Range parsivel Dm' ? 0.3 : 0)"}},
                    "stroke": {"value": {"expr": "datum.value === 'Min-Max Range radar Dm' ? 'gray' : (datum.value === 'radar(xmacs-wmacs)_Dm_median' ? 'black' : '#bf00bf')"}},
                    "strokeOpacity": {"value": {"expr": "datum.value === 'Min-Max Range radar Dm' ? 0.5 : (datum.value === 'Min-Max Range parsivel Dm' ? 0.3 : 1)"}},
                    "strokeWidth": {"value": {"expr": "(datum.value === 'Min-Max Range radar Dm' || datum.value === 'Min-Max Range parsivel Dm') ? 5 : 10"}},
                    "opacity": {"value": 1}
                  }
                }
              }
            }
          }
        },
        {
          "data": {"name": "radar5"},
          "mark": {"type": "line", "strokeWidth": 10, "strokeJoin": "round", "strokeCap": "square"},
          "encoding": {
            "y": {
              "field": "vmed",
              "type": "quantitative",
              "scale": {"domain": [0, 3], "nice": false, "zero": false},
              "axis": {
                "title": "Dm (mm)",
                "titleFontSize": 94,
                "values": [0,0.2,0.4,0.6,0.8,1,1.2,1.4,1.6,1.8,2,2.2,2.4,2.6,2.8,3],
                "labelExpr": "abs(datum.value - round(datum.value)) < 0.01 ? '' + round(datum.value) : ''",
                "tickSize": 50,
                "tickDash": {"condition": {"test": "abs(datum.value - round(datum.value)) < 0.01", "value": []}, "value": [32, 200]},
                "tickWidth": {"condition": {"test": "abs(datum.value - round(datum.value)) < 0.01", "value": 8}, "value": 5},
                "gridOpacity": {"condition": {"test": "abs(datum.value - round(datum.value)) < 0.01 && datum.value > 0.5 && datum.value < 2.5", "value": 1}, "value": 0}
              }
            },
            "detail": {"field": "seg", "type": "nominal"},
            "color": {
              "datum": "radar(xmacs-wmacs)_Dm_median",
              "type": "nominal",
              "scale": {
                "domain": ["Min-Max Range radar Dm", "radar(xmacs-wmacs)_Dm_median", "Min-Max Range parsivel Dm", "parsivel_Dm_median"],
                "range": ["gray", "black", "#bf00bf", "#bf00bf"]
              }
            }
          }
        },
        {
          "data": {"name": "note"},
          "mark": {"type": "text", "align": "left", "baseline": "alphabetic", "fontSize": 83, "font": "DejaVu Sans", "color": "black"},
          "encoding": {
            "y": {
              "field": "v",
              "type": "quantitative",
              "scale": {"domain": [0, 3], "nice": false, "zero": false},
              "axis": {
                "title": "Dm (mm)",
                "titleFontSize": 94,
                "values": [0,0.2,0.4,0.6,0.8,1,1.2,1.4,1.6,1.8,2,2.2,2.4,2.6,2.8,3],
                "labelExpr": "abs(datum.value - round(datum.value)) < 0.01 ? '' + round(datum.value) : ''",
                "tickSize": 50,
                "tickDash": {"condition": {"test": "abs(datum.value - round(datum.value)) < 0.01", "value": []}, "value": [32, 200]},
                "tickWidth": {"condition": {"test": "abs(datum.value - round(datum.value)) < 0.01", "value": 8}, "value": 5},
                "gridOpacity": {"condition": {"test": "abs(datum.value - round(datum.value)) < 0.01 && datum.value > 0.5 && datum.value < 2.5", "value": 1}, "value": 0}
              }
            },
            "text": {"field": "txt"}
          }
        }
      ]
    }
  ],
  "spacing": 191
}
